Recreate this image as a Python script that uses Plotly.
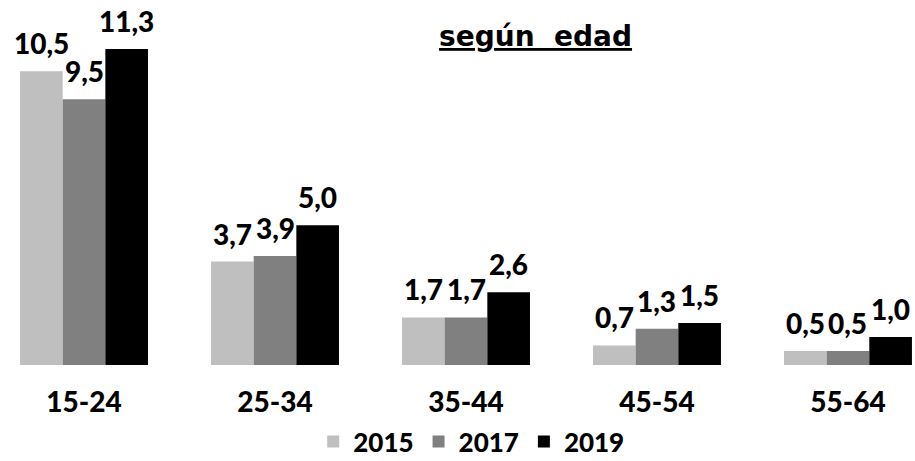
import plotly.graph_objects as go

# Age groups and rates per survey year
age_groups = ["15-24", "25-34", "35-44", "45-54", "55-64"]
years = ["2015", "2017", "2019"]
values_2015 = [10.5, 3.7, 1.7, 0.7, 0.5]
values_2017 = [9.5, 3.9, 1.7, 1.3, 0.5]
values_2019 = [11.3, 5.0, 2.6, 1.5, 1.0]
series = [values_2015, values_2017, values_2019]
colors = ["#BFBFBF", "#808080", "#000000"]

BARGAP = 0.33
label_font = dict(family="Lato", size=28, color="#000000", weight=900)
tick_font = dict(family="Lato", size=28, color="#000000", weight=900)
legend_font = dict(family="Lato", size=26, color="#000000", weight=900)

fig = go.Figure()
for year, vals, col in zip(years, series, colors):
    fig.add_trace(go.Bar(
        x=age_groups,
        y=vals,
        name=year,
        marker=dict(color=col, line=dict(width=0)),
    ))

# Value labels above each bar, placed at the centre of its slot in the group
slot = (1 - BARGAP) / len(series)
for k, vals in enumerate(series):
    offset = (k - (len(series) - 1) / 2) * slot
    for i, v in enumerate(vals):
        fig.add_annotation(
            x=i + offset, y=v,
            xref="x", yref="y",
            text=f"{v:.1f}".replace(".", ","),
            showarrow=False,
            xanchor="center", yanchor="bottom",
            yshift=9,
            font=label_font,
        )

fig.add_annotation(
    text="<span style='text-decoration:underline'>según  edad</span>",
    xref="paper", yref="paper",
    x=535 / 915, y=0.90,
    xanchor="center", yanchor="middle",
    showarrow=False,
    font=dict(family="DejaVu Sans", size=28, color="#000000", weight="bold"),
)

fig.update_layout(
    width=915, height=461,
    margin=dict(l=0, r=0, t=0, b=96, autoexpand=False),
    paper_bgcolor="white", plot_bgcolor="white",
    barmode="group", bargap=BARGAP, bargroupgap=0,
    separators=",.",
    showlegend=True,
    legend=dict(
        orientation="h",
        x=0.515, xanchor="center",
        y=-0.21, yanchor="middle",
        font=legend_font,
        borderwidth=0,
        itemclick=False,
    ),
    xaxis=dict(
        type="category",
        range=[-0.44, 4.351],
        showgrid=False, showline=False, zeroline=False,
        ticks="",
        tickfont=tick_font,
        ticklabelstandoff=18,
    ),
    yaxis=dict(
        range=[0, 13.05],
        visible=False,
        showgrid=False, zeroline=False,
    ),
)

fig.write_html("out.html")
